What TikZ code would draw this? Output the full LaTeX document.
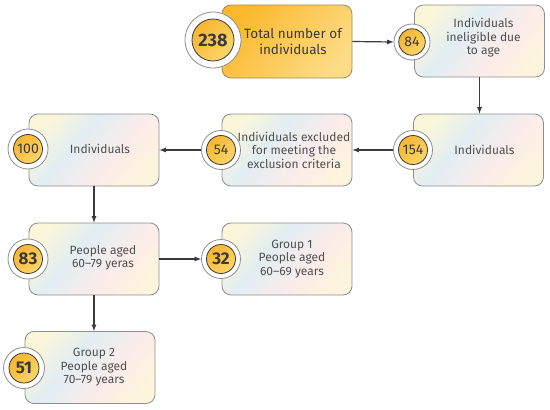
\documentclass[tikz,border=0pt]{standalone}
\usepackage{fontspec}
\setmainfont{Fira Sans}
\usepgflibrary{arrows}

\definecolor{keret}{HTML}{8E8E8E}
\definecolor{sotet}{HTML}{3A3A3A}
\definecolor{szurke}{HTML}{505050}
\definecolor{pyel}{HTML}{FAF6DA}
\definecolor{pblu}{HTML}{E2EEF3}
\definecolor{ppnk}{HTML}{FBECEA}
\definecolor{pyel2}{HTML}{FCF4DC}
\definecolor{oa}{HTML}{FBB82C}
\definecolor{ob}{HTML}{FDDC86}
\definecolor{sa}{HTML}{F6B530}
\definecolor{sb}{HTML}{FDD66A}
\definecolor{oker}{HTML}{A08B57}

\pgfdeclarehorizontalshading{pasztell}{100bp}{color(0bp)=(pyel); color(24bp)=(pyel); color(41bp)=(pblu); color(60bp)=(ppnk); color(76bp)=(pyel2); color(100bp)=(pyel2)}
\pgfdeclarehorizontalshading{narancs}{100bp}{color(0bp)=(oa); color(25bp)=(oa); color(75bp)=(ob); color(100bp)=(ob)}
\pgfdeclarehorizontalshading{sarga}{100bp}{color(0bp)=(sa); color(25bp)=(sa); color(75bp)=(sb); color(100bp)=(sb)}

\begin{document}
\begin{tikzpicture}[x=1pt, y=-1pt, >=latex,
doboz/.style={rounded corners=9pt, draw=keret, line width=.8pt, shading=pasztell, shading angle=-40, minimum width=130pt, minimum height=72pt, inner sep=0},
fodoboz/.style={doboz, shading=narancs, draw=oker, minimum height=73pt},
szoveg/.style={align=center, text=szurke, font=\fontsize{12}{13.5}\selectfont, inner sep=0},
gyuru/.style={circle, fill=white, draw=keret, line width=.8pt, minimum size=39pt, inner sep=0},
korong/.style={circle, shading=sarga, shading angle=-45, draw=sotet, line width=.8pt, minimum size=29pt, inner sep=0, text=sotet, font=\fontsize{14}{14}\selectfont},
nyil/.style={->, draw=sotet, line width=1.2pt}]
\useasboundingbox (0,0) rectangle (550,410);
%%%%%%%%%% BOXES %%%%%%%%%%%
\node[fodoboz] (b238) at (287,41.5) {};
\node[szoveg, text=sotet, font=\fontsize{13.5}{15.5}\selectfont] (t238) at ([xshift=6pt]b238.center) {Total number of\\individuals};
\node[doboz] (b84) at (479.5,41) {};
\node[szoveg] (t84) at ([xshift=4pt,yshift=3pt]b84.center) {Individuals\\ineligible due\\to age};
\node[doboz] (b154) at (478.5,150) {};
\node[szoveg] (t154) at ([xshift=6pt]b154.center) {Individuals};
\node[doboz] (b54) at (287,150) {};
\node[szoveg] (t54) at ([xshift=7pt]b54.center) {Individuals excluded\\for meeting the\\exclusion criteria};
\node[doboz] (b100) at (94,150) {};
\node[szoveg] (t100) at ([xshift=6pt,yshift=1pt]b100.center) {Individuals};
\node[doboz] (b83) at (94,259) {};
\node[szoveg] (t83) at ([xshift=9pt,yshift=1pt]b83.center) {People aged\\60--79 yeras};
\node[doboz] (b32) at (287,259) {};
\node[szoveg] (t32) at ([xshift=5pt]b32.center) {Group 1\\People aged\\60--69 years};
\node[doboz] (b51) at (90,367.5) {};
\node[szoveg] (t51) at ([xshift=4pt]b51.center) {Group 2\\People aged\\70--79 years};
%%%%%%%%%% BADGES %%%%%%%%%%%
\node[gyuru, minimum size=56pt] (k238) at (213,40) {};
\node[korong, minimum size=42pt, font=\fontsize{18}{18}\selectfont\bfseries] (n238) at (k238) {238};
\node[gyuru, minimum size=36pt] (k84) at (412,42) {};
\node[korong, minimum size=26.5pt] (n84) at (k84) {84};
\node[gyuru] (k154) at (413,150) {};
\node[korong] (n154) at (k154) {154};
\node[gyuru] (k54) at (221,150) {};
\node[korong] (n54) at (k54) {54};
\node[gyuru, minimum size=40pt] (k100) at (28,149) {};
\node[korong] (n100) at (k100) {100};
\node[gyuru, minimum size=40pt] (k83) at (28,259) {};
\node[korong, font=\fontsize{17}{17}\selectfont\bfseries] (n83) at (k83) {83};
\node[gyuru] (k32) at (221,259) {};
\node[korong, font=\fontsize{17}{17}\selectfont\bfseries] (n32) at (k32) {32};
\node[gyuru, minimum size=41pt] (k51) at (24,368) {};
\node[korong, minimum size=30pt, font=\fontsize{17}{17}\selectfont\bfseries] (n51) at (k51) {51};
%%%%%%%%%% ARROWS %%%%%%%%%%%
\draw[nyil] (b238.east) -- (k84.west);
\draw[nyil] (b84.south) -- (b84.south |- b154.north);
\draw[nyil] (k154.west) -- (b54.east);
\draw[nyil] (k54.west) -- (b100.east);
\draw[nyil] (b100.south) -- (b83.north);
\draw[nyil] (b83.east) -- (k32.west);
\draw[nyil] (b83.south) -- (b83.south |- b51.north);
\end{tikzpicture}
\end{document}
